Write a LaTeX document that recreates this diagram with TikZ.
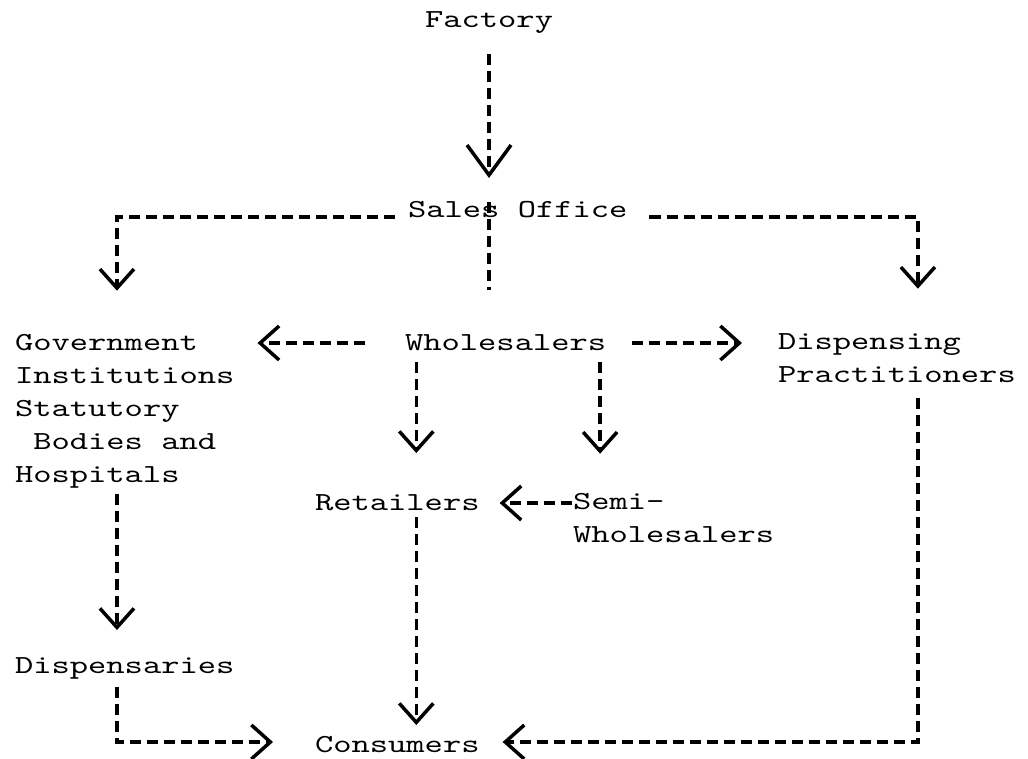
\documentclass[tikz,border=0pt]{standalone}
\usepackage{fontspec}
\setmainfont[FakeStretch=1.34]{lmmono10-regular.otf}
\usetikzlibrary{arrows.meta}
\begin{document}
\begin{tikzpicture}[x=1pt,y=-1pt,
  lbl/.style={inner sep=0pt,outer sep=0pt,font=\fontsize{26}{33}\selectfont,text height=17pt,text depth=5pt,anchor=base west},
  blk/.style={inner sep=0pt,outer sep=0pt,font=\fontsize{26}{33}\selectfont,align=left,anchor=north west},
  dl/.style={line width=3.5pt,dash pattern=on 11pt off 6pt},
  sv/.tip={Straight Barb[length=19pt,width=34pt]},
  bv/.tip={Straight Barb[length=30pt,width=44pt]},
]
\fill[white] (0,0) rectangle (1028,759);
\useasboundingbox (0,0) rectangle (1028,759);

\node[lbl] (fac) at (425,28) {Factory};
\node[lbl] (sales) at (408,218) {Sales Office};
\node[lbl] (whole) at (405,350) {Wholesalers};
\node[blk] (gov) at (15,334.7) {Government\\Institutions\\Statutory\\\hphantom{B}Bodies and\\Hospitals};
\node[blk] (disp) at (778,333.7) {Dispensing\\Practitioners};
\node[lbl] (ret) at (315,510) {Retailers};
\node[blk] (semi) at (573,493.7) {Semi-\\Wholesalers};
\node[lbl] (dis) at (15,673) {Dispensaries};
\node[lbl] (cons) at (315,752) {Consumers};

\coordinate (cG) at ([xshift=-7.8pt]gov.north);
\coordinate (cD) at ([xshift=21pt]disp.north);
\coordinate (cR) at ([xshift=19pt]ret.north);
\coordinate (cS) at ([xshift=94.5pt]whole.north);
\coordinate (cRE) at ([yshift=7pt]ret.base east);

\draw[dl,-bv,shorten <=21pt,shorten >=23pt] (fac.south) -- (fac.south |- sales.north);
\draw[dl,-sv,shorten <=13pt,shorten >=44pt] ([yshift=1pt]sales.base west) -| (cG);
\draw[dl,-sv,shorten <=22pt,shorten >=45pt] ([yshift=1pt]sales.base east) -| (cD);
\draw[dl,shorten <=1pt,shorten >=43pt] (sales.north -| fac.south) -- (whole.north -| fac.south);
\draw[dl,-sv,shorten <=40pt,shorten >=23pt] ([yshift=7pt]whole.base west) -- ([yshift=7pt]whole.base west -| gov.east);
\draw[dl,-sv,shorten <=26pt,shorten >=36pt] ([yshift=7pt]whole.base east) -- ([yshift=7pt]whole.base east -| disp.west);
\draw[dl,-sv,shorten <=7pt,shorten >=40pt] (whole.south -| cR) -- (cR);
\draw[dl,-sv,shorten <=7pt,shorten >=40pt] (whole.south -| cS) -- (cS |- semi.north);
\draw[dl,-sv,shorten <=1pt,shorten >=20pt] (semi.west |- cRE) -- (cRE);
\draw[dl,-sv,shorten <=2pt,shorten >=10pt] (ret.south -| cR) -- (cons.north -| cR);
\draw[dl,-sv,shorten <=5pt,shorten >=26pt] (gov.south -| cG) -- (dis.north -| cG);
\draw[dl,-sv,shorten <=9pt,shorten >=42pt] (dis.south -| cG) |- ([yshift=10pt]cons.base west);
\draw[dl,-sv,shorten <=15pt,shorten >=23pt] (disp.south -| cD) |- ([yshift=10pt]cons.base east);
\end{tikzpicture}
\end{document}
